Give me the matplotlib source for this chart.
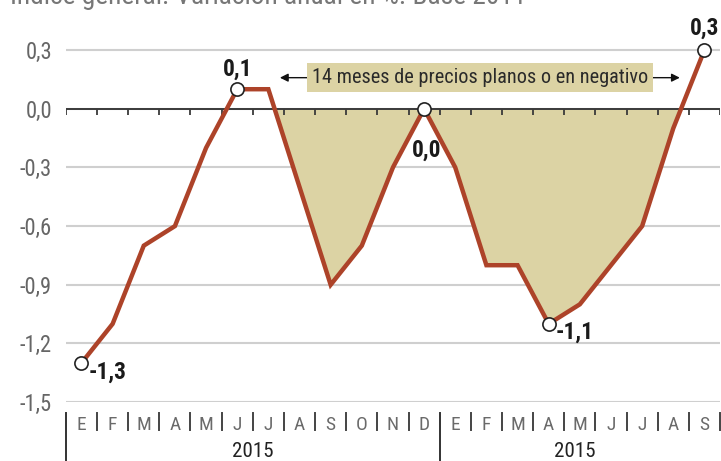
import matplotlib
matplotlib.use("Agg")
import matplotlib.pyplot as plt
from matplotlib import font_manager
from matplotlib.font_manager import FontProperties
from matplotlib.transforms import blended_transform_factory
import numpy as np

months = ['E', 'F', 'M', 'A', 'M', 'J', 'J', 'A', 'S', 'O', 'N', 'D',
          'E', 'F', 'M', 'A', 'M', 'J', 'J', 'A', 'S']
values = [-1.3, -1.1, -0.7, -0.6, -0.2, 0.1, 0.1, -0.4, -0.9, -0.7, -0.3, 0.0,
          -0.3, -0.8, -0.8, -1.1, -1.0, -0.8, -0.6, -0.1, 0.3]
years = ['2015', '2015']
yticks = [0.3, 0.0, -0.3, -0.6, -0.9, -1.2, -1.5]
ytick_labels = ['0,3', '0,0', '-0,3', '-0,6', '-0,9', '-1,2', '-1,5']
marked = [0, 5, 11, 15, 20]
marked_labels = ['-1,3', '0,1', '0,0', '-1,1', '0,3']
label_offsets = [(19, -6.5), (0, 14.5), (2, -30), (19, -6), (0, 16)]
fill_start = 6
note = '14 meses de precios planos o en negativo'
title = 'Índice general. Variación anual en %. Base 2011'

# look for a condensed sans font
def find_condensed(bold):
    best = None
    prefs = ['Roboto Condensed', 'Liberation Sans Narrow', 'DejaVu Sans', 'Open Sans', 'Noto Sans']
    for f in font_manager.fontManager.ttflist:
        fn = f.fname.lower()
        if not ('condensed' in fn or 'narrow' in fn or 'cond' in f.name.lower()):
            continue
        if 'semicondensed' in fn or 'extracondensed' in fn or 'ultracondensed' in fn:
            continue
        if f.style != 'normal':
            continue
        w = f.weight if isinstance(f.weight, int) else (700 if 'bold' in str(f.weight) else 400)
        if bold and w != 700:
            continue
        if not bold and w != 400:
            continue
        rank = prefs.index(f.name) if f.name in prefs else len(prefs)
        if best is None or rank < best[0]:
            best = (rank, f.fname)
    return best[1] if best else None

reg_file = find_condensed(False)
bold_file = find_condensed(True)
if reg_file:
    FP = FontProperties(fname=reg_file)
else:
    FP = FontProperties(family=['Roboto', 'DejaVu Sans'])
if bold_file:
    FPB = FontProperties(fname=bold_file)
else:
    FPB = FontProperties(family=['Roboto', 'DejaVu Sans'], weight='bold')
cond = reg_file is not None
k = 1.12 if cond else 1.0

def fp(base, size):
    p = base.copy()
    p.set_size(size * k)
    return p

LINE = '#ad4329'
FILL = '#dcd3a4'
W, H = 721, 461
fig = plt.figure(figsize=(W / 100, H / 100), dpi=100)
ax_left, ax_right, ax_bottom = 65.9, 720.0, 402.1
ax = fig.add_axes([ax_left / W, (H - ax_bottom) / H, (ax_right - ax_left) / W, ax_bottom / H])
x = np.arange(len(values))
y = np.array(values)
ax.set_xlim(-0.5, 20.5)
ax.set_ylim(-1.5, 0.3 + 50.1 * 0.005114)
for s in ax.spines.values():
    s.set_visible(False)

ax.set_yticks(yticks)
ax.set_yticklabels(ytick_labels, color='#666666', fontproperties=fp(FP, 14.5))
ax.tick_params(axis='y', length=0, pad=10)
ax.yaxis.grid(True, color='#cfcfcf', lw=1.5)
ax.set_axisbelow(True)

ax.set_xticks(x)
ax.set_xticklabels(months, color='#6a6a6a', fontproperties=fp(FP, 12.5))
ax.tick_params(axis='x', length=0, pad=10)

where = (x >= fill_start) & (y <= 0)
ax.fill_between(x, y, 0, where=where, interpolate=True, color=FILL, lw=0, zorder=1)

ax.axhline(0, color='#3a3a3a', lw=1.4, zorder=2)
bounds = np.arange(-0.5, 20.6, 1.0)
ax.vlines(bounds, -0.033, 0, color='#3a3a3a', lw=1.3, zorder=2)

ax.plot(x, y, color=LINE, lw=3.2, solid_joinstyle='miter', zorder=3)
ax.plot(x[marked], y[marked], 'o', ms=9.5, mfc='white', mec='#222222', mew=1.2, zorder=4)
for i, lab, off in zip(marked, marked_labels, label_offsets):
    ax.annotate(lab, (x[i], y[i]), xytext=off, textcoords='offset points',
                ha='center', va='center', fontproperties=fp(FPB, 15), color='#1a1a1a', zorder=5)

ya = 0.159
ax.annotate('', xy=(6.37, ya), xytext=(19.21, ya),
            arrowprops=dict(arrowstyle='<|-|>', color='#111111', lw=1.0,
                            mutation_scale=12, shrinkA=0, shrinkB=0), zorder=5)
ax.text(12.79, ya, note, ha='center', va='center', fontproperties=fp(FP, 13), color='#2a2a2a',
        bbox=dict(boxstyle='square,pad=0.25', fc=FILL, ec='none'), zorder=6)

tr = blended_transform_factory(ax.transData, fig.transFigure)
for b in bounds[1:]:
    if abs(b - 11.5) < 1e-6:
        continue
    ax.plot([b, b], [1 - 413 / H, 1 - 430 / H], color='#444444', lw=1.4, transform=tr, clip_on=False)
for b in [-0.5, 11.5]:
    ax.plot([b, b], [1 - 413 / H, 0], color='#333333', lw=1.4, transform=tr, clip_on=False)
ax.text(5.5, 1 - 451 / H, years[0], ha='center', va='center', fontproperties=fp(FP, 13.5),
        color='#222222', transform=tr)
ax.text(15.85, 1 - 451 / H, years[1], ha='center', va='center', fontproperties=fp(FP, 13.5),
        color='#222222', transform=tr)

fig.text(10 / W, 1 - 4 / H, title, ha='left', va='baseline', fontproperties=fp(FP, 17.6), color='#777777')

fig.savefig('out.png', dpi=100)
